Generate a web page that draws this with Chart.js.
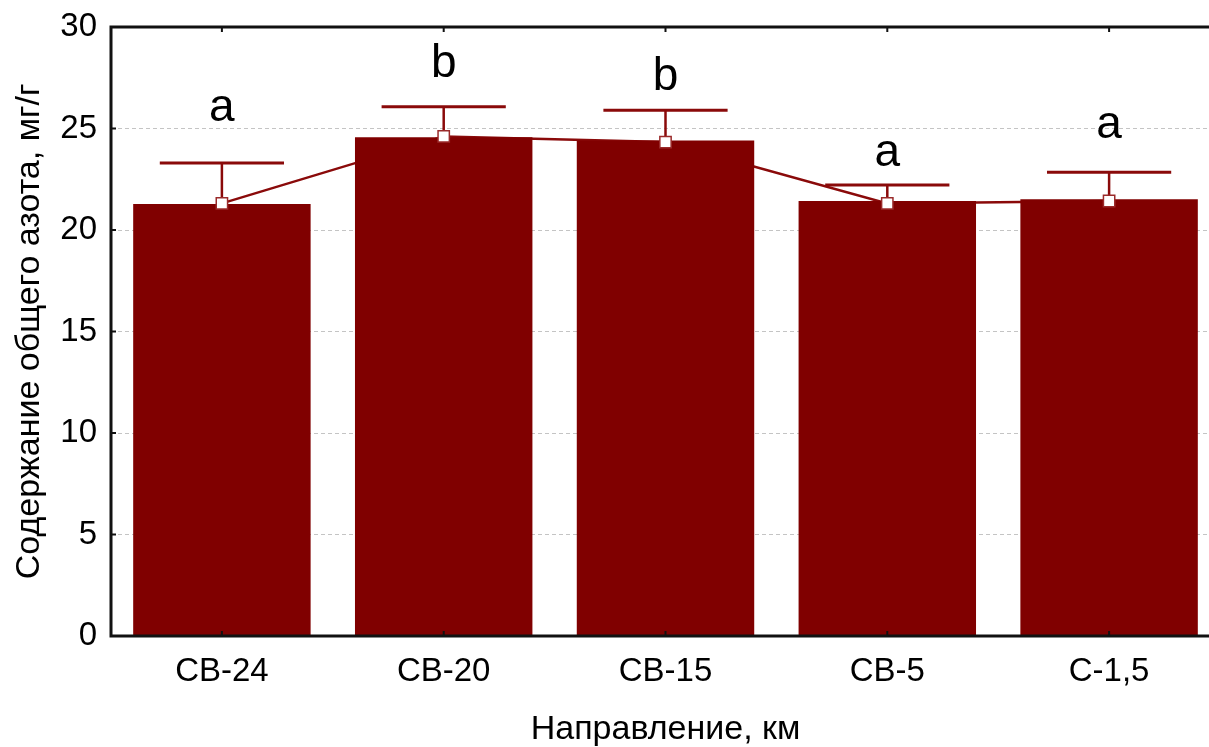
<!DOCTYPE html>
<html>
<head>
<meta charset="utf-8">
<script src="https://cdn.jsdelivr.net/npm/chart.js@4/dist/chart.umd.min.js"></script>
<style>
  html, body { margin: 0; padding: 0; background: #fff; overflow: hidden; width: 1209px; height: 747px; }
  #wrap { position: absolute; left: 0; top: 0; width: 1230px; height: 747px; }
  canvas { display: block; }
</style>
</head>
<body>
<div id="wrap"><canvas id="c" width="1230" height="747"></canvas></div>
<script>
// ---- data ----
const categories = ['СВ-24', 'СВ-20', 'СВ-15', 'СВ-5', 'С-1,5'];
const barValues = [21.28, 24.57, 24.41, 21.43, 21.51];
const meanValues = [21.31, 24.61, 24.33, 21.31, 21.43];
const errorTops = [23.30, 26.07, 25.90, 22.22, 22.84];
const groupLetters = ['a', 'b', 'b', 'a', 'a'];
const letterLevels = [25.37, 27.54, 26.90, 23.15, 24.53];
const yTickValues = [0, 5, 10, 15, 20, 25, 30];

const DARK_RED = '#800000';
const FONT = "'Liberation Sans', Arial, sans-serif";

const errorBarPlugin = {
  id: 'errorBars',
  afterDatasetDraw(chart, args) {
    if (args.index !== 1) return;
    const ctx = chart.ctx;
    const y = chart.scales.y;
    const meta = chart.getDatasetMeta(1);
    ctx.save();
    ctx.strokeStyle = '#8a0a0a';
    meta.data.forEach((bar, i) => {
      const x = bar.x;
      const yTop = y.getPixelForValue(errorTops[i]);
      const yMean = y.getPixelForValue(meanValues[i]);
      const half = bar.width * 0.35;
      ctx.lineWidth = 2.5;
      ctx.beginPath();
      ctx.moveTo(x, yMean);
      ctx.lineTo(x, yTop);
      ctx.stroke();
      ctx.lineWidth = 3;
      ctx.beginPath();
      ctx.moveTo(x - half, yTop);
      ctx.lineTo(x + half, yTop);
      ctx.stroke();
    });
    ctx.restore();
  },
  afterDraw(chart) {
    const ctx = chart.ctx;
    const a = chart.chartArea;
    const xs = chart.scales.x, ys = chart.scales.y;
    ctx.save();
    // letters
    ctx.fillStyle = '#000';
    ctx.font = '46px ' + FONT;
    ctx.textAlign = 'center';
    ctx.textBaseline = 'alphabetic';
    groupLetters.forEach((t, i) => {
      ctx.fillText(t, xs.getPixelForValue(i), ys.getPixelForValue(letterLevels[i]));
    });
    // frame
    ctx.strokeStyle = '#111';
    ctx.lineWidth = 3;
    ctx.strokeRect(a.left, a.top, a.right - a.left, a.bottom - a.top);
    // inward ticks
    ctx.lineWidth = 2;
    ctx.beginPath();
    yTickValues.forEach(v => {
      const py = ys.getPixelForValue(v);
      ctx.moveTo(a.left, py);
      ctx.lineTo(a.left + 5, py);
    });
    categories.forEach((c, i) => {
      const px = xs.getPixelForValue(i);
      ctx.moveTo(px, a.top);
      ctx.lineTo(px, a.top + 5);
      ctx.moveTo(px, a.bottom);
      ctx.lineTo(px, a.bottom - 5);
    });
    ctx.stroke();
    ctx.restore();
  }
};

new Chart(document.getElementById('c'), {
  data: {
    labels: categories,
    datasets: [
      {
        type: 'line',
        data: meanValues,
        borderColor: '#8a0a0a',
        borderWidth: 2.5,
        pointRadius: 0,
        fill: false,
        tension: 0,
        order: 3
      },
      {
        type: 'bar',
        data: barValues,
        backgroundColor: DARK_RED,
        borderWidth: 0,
        barPercentage: 0.8,
        categoryPercentage: 1.0,
        order: 2
      },
      {
        type: 'line',
        data: meanValues,
        showLine: false,
        pointStyle: 'rect',
        pointRadius: 8,
        pointBackgroundColor: '#ffffff',
        pointBorderColor: '#9a2a2a',
        pointBorderWidth: 1.5,
        order: 0
      }
    ]
  },
  options: {
    responsive: false,
    animation: false,
    devicePixelRatio: 1,
    layout: { padding: { top: 27, right: 10, left: 0, bottom: 0 } },
    plugins: {
      legend: { display: false },
      tooltip: { enabled: false }
    },
    scales: {
      x: {
        type: 'category',
        offset: true,
        grid: { display: false, drawTicks: false },
        border: { display: false },
        ticks: {
          color: '#000',
          font: { family: FONT, size: 33 },
          padding: 16,
          maxRotation: 0,
          autoSkip: false
        },
        title: {
          display: true,
          text: 'Направление, км',
          color: '#000',
          font: { family: FONT, size: 34 },
          padding: { top: 0, bottom: -3 }
        },
        afterFit(scale) {
          scale.height = 111;
          scale.paddingLeft = 0; scale.paddingRight = 0;
        }
      },
      y: {
        min: 0,
        max: 30,
        grid: {
          drawTicks: false,
          lineWidth: 1,
          color: (c) => (c.tick && (c.tick.value === 0 || c.tick.value === 30)) ? 'rgba(0,0,0,0)' : '#c4c4c4'
        },
        border: { display: false, dash: [4, 3] },
        ticks: {
          stepSize: 5,
          color: '#000',
          font: { family: FONT, size: 33 },
          padding: 14
        },
        title: {
          display: true,
          text: 'Содержание общего азота, мг/г',
          color: '#000',
          font: { family: FONT, size: 34 },
          padding: { top: 9, bottom: 0 }
        },
        afterFit(scale) {
          scale.width = 111;
          scale.paddingTop = 0; scale.paddingBottom = 0;
        }
      }
    }
  },
  plugins: [errorBarPlugin]
});
</script>
</body>
</html>
